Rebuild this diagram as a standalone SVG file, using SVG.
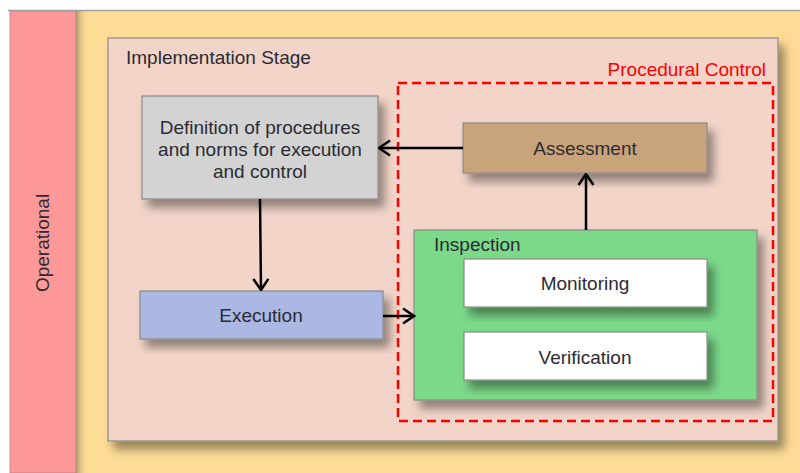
<svg xmlns="http://www.w3.org/2000/svg" width="800" height="473" viewBox="0 0 800 473">
  <style>
    text { font-family: "Liberation Sans", Arial, sans-serif; font-size: 19px; fill: #2b2b33; }
    .box { stroke: #8a8a8a; stroke-width: 1.2; filter: url(#shadow); }
    .conn { stroke: #000; stroke-width: 2.5; fill: none; marker-end: url(#chev); }
    .mid { text-anchor: middle; }
  </style>
  <defs>
    <filter id="shadow" x="-10%" y="-10%" width="130%" height="140%">
      <feDropShadow dx="6" dy="8" stdDeviation="5" flood-color="#000" flood-opacity="0.4"/>
    </filter>
    <linearGradient id="bandShade" x1="0" y1="0" x2="1" y2="0">
      <stop offset="0" stop-color="#8a7a55" stop-opacity="0.7"/>
      <stop offset="1" stop-color="#fedc96" stop-opacity="0"/>
    </linearGradient>
    <marker id="chev" viewBox="0 0 14 18" refX="12.5" refY="9" markerWidth="14" markerHeight="18" markerUnits="userSpaceOnUse" orient="auto">
      <path d="M1.5,1.5 L12.5,9 L1.5,16.5" fill="none" stroke="#000" stroke-width="2.5"/>
    </marker>
  </defs>

  <rect width="800" height="473" fill="#ffffff"/>

  <!-- outer bands -->
  <g id="operational">
    <rect x="76" y="11" width="724" height="462" fill="#fedc96"/>
    <rect x="76" y="11" width="12" height="462" fill="url(#bandShade)"/>
    <rect x="10" y="11" width="66" height="462" fill="#ff9999" stroke="#b08080" stroke-width="0.8"/>
    <line x1="8" y1="10.5" x2="800" y2="10.5" stroke="#a0a0a0" stroke-width="1.5"/>
    <text transform="translate(49,243) rotate(-90)" class="mid">Operational</text>
  </g>

  <g id="implementation-stage">
    <rect class="box" x="108" y="38" width="670" height="403" fill="#f2d5c8"/>
    <text x="126" y="64">Implementation Stage</text>
  </g>

  <g id="procedural-control">
    <rect x="398" y="83" width="375" height="338" fill="none" stroke="#ff0000" stroke-width="2.5" stroke-dasharray="9,5"/>
    <text x="766" y="76" text-anchor="end" style="fill:#ff0000">Procedural Control</text>
  </g>

  <g id="definition">
    <rect class="box" x="142" y="96" width="236" height="103" fill="#d3d3d3"/>
    <text class="mid" x="260" y="134">Definition of procedures</text>
    <text class="mid" x="260" y="156">and norms for execution</text>
    <text class="mid" x="260" y="178">and control</text>
  </g>

  <g id="assessment">
    <rect class="box" x="463" y="123" width="244" height="50" fill="#c9a47a"/>
    <text class="mid" x="585" y="155">Assessment</text>
  </g>

  <g id="execution">
    <rect class="box" x="140" y="291" width="243" height="48" fill="#aab8e3"/>
    <text class="mid" x="261" y="322">Execution</text>
  </g>

  <g id="inspection">
    <rect class="box" x="414" y="230" width="343" height="170" fill="#7cd98a"/>
    <text x="434" y="251">Inspection</text>
  </g>

  <g id="monitoring">
    <rect class="box" x="464" y="259" width="243" height="48" fill="#ffffff"/>
    <text class="mid" x="585" y="290">Monitoring</text>
  </g>

  <g id="verification">
    <rect class="box" x="464" y="332" width="243" height="48" fill="#ffffff"/>
    <text class="mid" x="585" y="364">Verification</text>
  </g>

  <g id="connectors">
    <line class="conn" x1="463" y1="148" x2="379" y2="148"/>
    <line class="conn" x1="260" y1="199" x2="261" y2="290"/>
    <line class="conn" x1="383" y1="316" x2="414" y2="316"/>
    <line class="conn" x1="586" y1="230" x2="586" y2="174"/>
  </g>
</svg>
